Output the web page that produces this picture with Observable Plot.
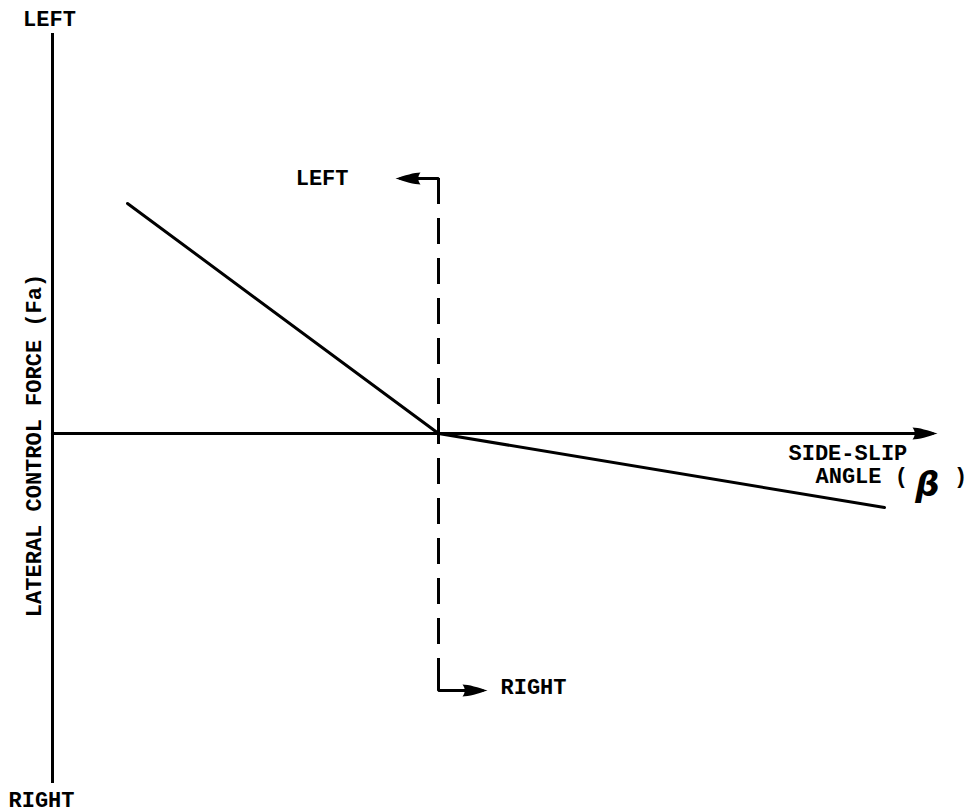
<!DOCTYPE html>
<html>
<head>
<meta charset="utf-8">
<script src="https://cdn.jsdelivr.net/npm/d3@7"></script>
<script src="https://cdn.jsdelivr.net/npm/@observablehq/plot@0.6"></script>
<style>
  html, body { margin: 0; padding: 0; background: #fff; }
  #chart svg { display: block; }
</style>
</head>
<body>
<div id="chart"></div>
<script>
// ---- data (schematic units: 1 unit ≈ one grid step of the sketch) ----
const xDomain = [-38.6, 50];          // side-slip angle (β), schematic
const yDomain = [-35, 40];            // lateral control force (Fa), schematic
const yAxisX = -38.6;                 // where the force axis stands
const yAxisSpan = [-35, 40];
const xAxisSpan = [-38.6, 49.4];
const responseX = [-31.1, 0, 44.6];   // force vs side-slip
const responseY = [23, 0, -7.4];
const dividerX = 0;                   // zero side-slip divider
const dividerSpan = [25.5, -25.7];
const leftArrowX = [0, 0, -3.8];
const leftArrowY = [24.5, 25.5, 25.5];
const rightArrowX = [0, 0, 4.4];
const rightArrowY = [-22.9, -25.7, -25.7];
const labelText = ["LEFT", "RIGHT", "LATERAL CONTROL FORCE (Fa)", "LEFT", "RIGHT", "SIDE-SLIP", "ANGLE (", ")"];
const labelX = [yAxisX, yAxisX, yAxisX, -9.0, 6.2, 35.0, 37.7, 52.2];
const labelY = [40, -35, -1.2, 25.5, -25.7, -1.9, -4.2, -4.2];
const betaLabel = ["β"];
const betaX = [48.9];
const betaY = [-5.2];

// ---- helpers ----
const pts = (xs, ys) => xs.map((x, i) => ({x, y: ys[i]}));
const labels = labelText.map((t, i) => ({t, x: labelX[i], y: labelY[i]}));

function arrowHead(color, context) {
  const ns = "http://www.w3.org/2000/svg";
  const m = document.createElementNS(ns, "marker");
  m.setAttribute("viewBox", "-24 -8 32 16");
  m.setAttribute("markerWidth", "32");
  m.setAttribute("markerHeight", "16");
  m.setAttribute("markerUnits", "userSpaceOnUse");
  m.setAttribute("refX", "0");
  m.setAttribute("refY", "0");
  m.setAttribute("orient", "auto");
  const p = document.createElementNS(ns, "path");
  p.setAttribute("d", "M5,0 C-4,-3 -14,-6 -20,-6 C-17,-2 -17,2 -20,6 C-14,6 -4,3 5,0 Z");
  p.setAttribute("fill", color);
  p.setAttribute("stroke", "none");
  m.appendChild(p);
  return m;
}

const font = "'Liberation Mono', 'DejaVu Sans Mono', monospace";

const chart = Plot.plot({
  width: 968,
  height: 812,
  marginLeft: 52,
  marginRight: 30,
  marginTop: 33,
  marginBottom: 29,
  x: {domain: xDomain, axis: null},
  y: {domain: yDomain, axis: null},
  style: {background: "#fff", overflow: "visible", fontFamily: font},
  marks: [
    // force axis
    Plot.ruleX([yAxisX], {y1: yAxisSpan[0], y2: yAxisSpan[1], stroke: "#000", strokeWidth: 3}),
    // side-slip axis with arrow
    Plot.line(pts(xAxisSpan, [0, 0]), {x: "x", y: "y", stroke: "#000", strokeWidth: 3, markerEnd: arrowHead}),
    // dashed zero side-slip divider
    Plot.ruleX([dividerX], {y1: dividerSpan[0], y2: dividerSpan[1], stroke: "#000", strokeWidth: 3, strokeDasharray: "26,14"}),
    // LEFT / RIGHT direction arrows
    Plot.line(pts(leftArrowX, leftArrowY), {x: "x", y: "y", stroke: "#000", strokeWidth: 3, strokeLinejoin: "miter", markerEnd: arrowHead}),
    Plot.line(pts(rightArrowX, rightArrowY), {x: "x", y: "y", stroke: "#000", strokeWidth: 3, strokeLinejoin: "miter", markerEnd: arrowHead}),
    // response line
    Plot.line(pts(responseX, responseY), {x: "x", y: "y", stroke: "#000", strokeWidth: 3}),
    // labels
    Plot.text([labels[0]], {x: "x", y: "y", text: "t", dx: -3, dy: -15, fontSize: 22, fontWeight: "bold", fill: "#000"}),
    Plot.text([labels[1]], {x: "x", y: "y", text: "t", dx: -11, dy: 16, fontSize: 22, fontWeight: "bold", fill: "#000"}),
    Plot.text([labels[2]], {x: "x", y: "y", text: "t", dx: -19, rotate: -90, fontSize: 22, fontWeight: "bold", fill: "#000"}),
    Plot.text([labels[3]], {x: "x", y: "y", text: "t", dy: -1, textAnchor: "end", fontSize: 22, fontWeight: "bold", fill: "#000"}),
    Plot.text([labels[4]], {x: "x", y: "y", text: "t", dy: -4, textAnchor: "start", fontSize: 22, fontWeight: "bold", fill: "#000"}),
    Plot.text(labels.slice(5, 7), {x: "x", y: "y", text: "t", textAnchor: "start", fontSize: 22, fontWeight: "bold", fill: "#000"}),
    Plot.text([labels[7]], {x: "x", y: "y", text: "t", fontSize: 22, fontWeight: "bold", fill: "#000"}),
    Plot.text(betaLabel, {x: () => betaX[0], y: () => betaY[0], text: d => d, fontSize: 34, fontWeight: "bold", fontStyle: "italic", fontFamily: "'DejaVu Sans', sans-serif", fill: "#000"})
  ]
});
document.getElementById("chart").appendChild(chart);
</script>
</body>
</html>
